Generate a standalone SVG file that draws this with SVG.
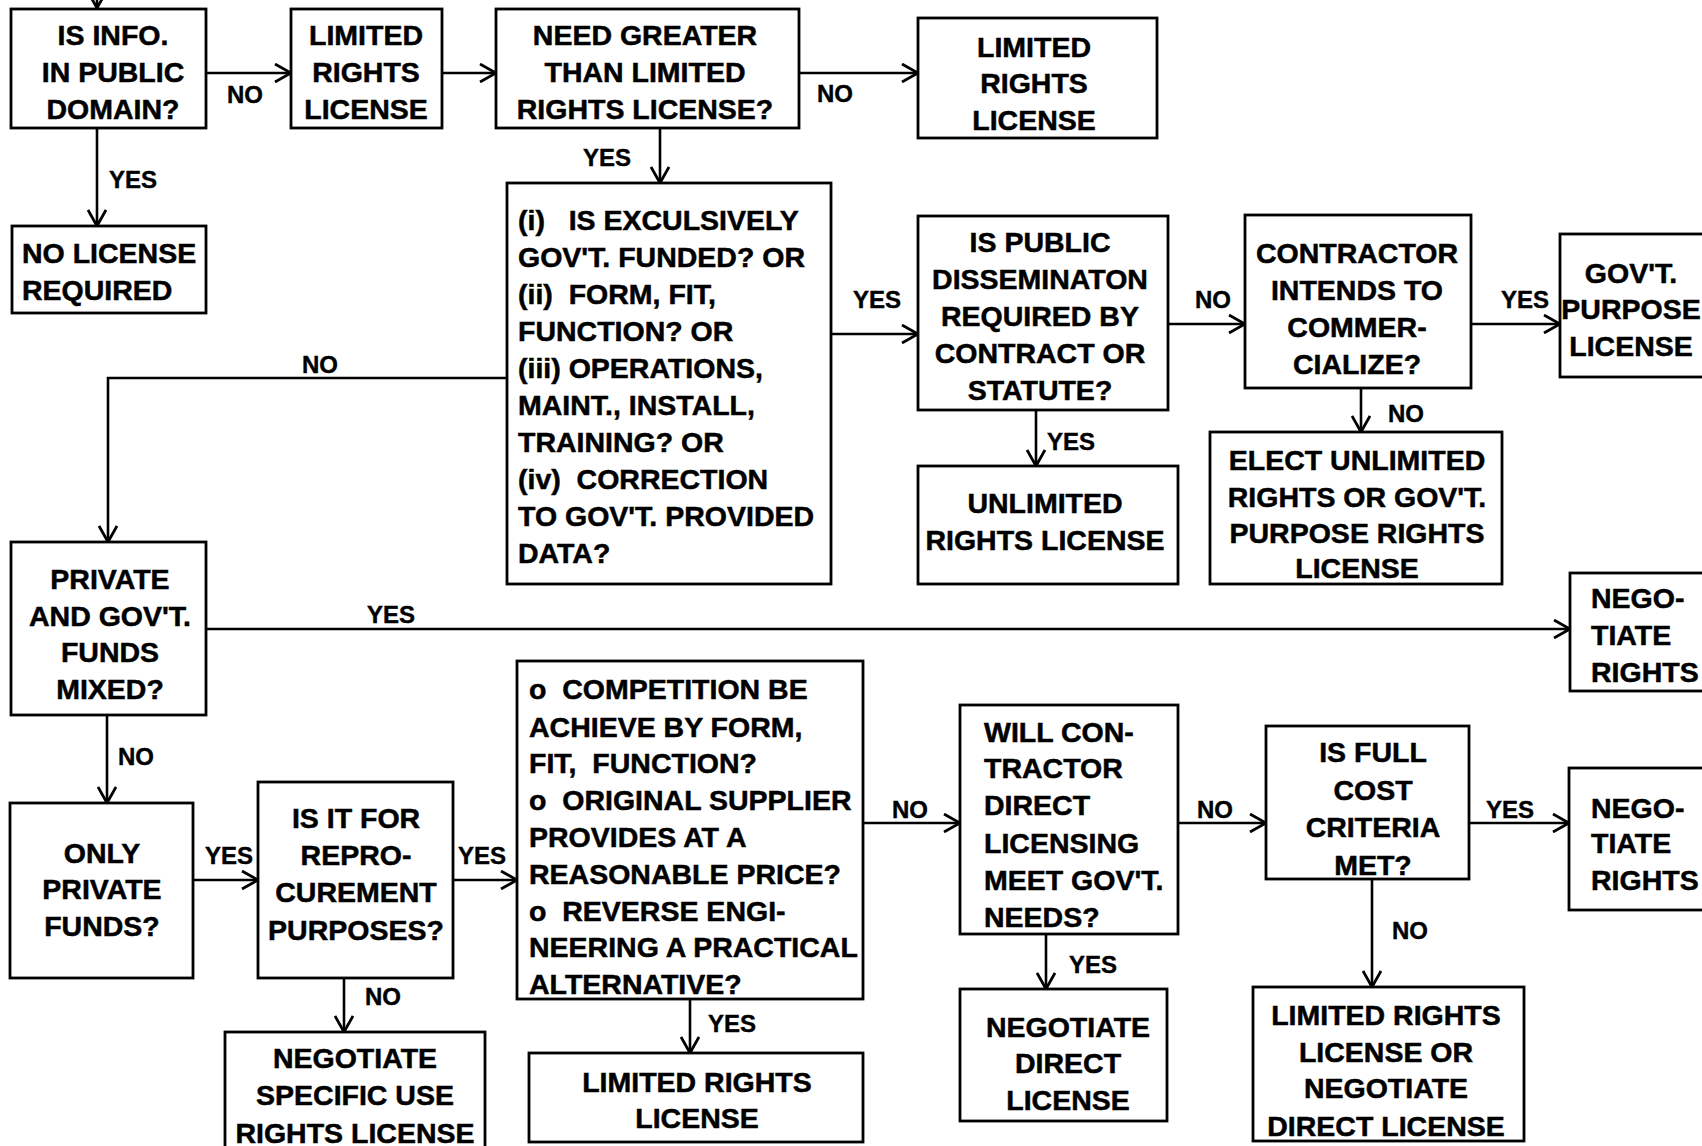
<svg xmlns="http://www.w3.org/2000/svg" width="1702" height="1146" viewBox="0 0 1702 1146">
<style>
.box{fill:#fff;stroke:#000;stroke-width:2.8}
.t{font-family:"Liberation Sans",Arial,sans-serif;font-weight:bold;font-size:28.5px;fill:#000;stroke:#000;stroke-width:0.5}
.c{text-anchor:middle}
.l{font-family:"Liberation Sans",Arial,sans-serif;font-weight:bold;font-size:24px;fill:#000;stroke:#000;stroke-width:0.4;text-anchor:middle}
.e{fill:none;stroke:#000;stroke-width:2.6}
</style>
<defs>
<marker id="ah" viewBox="0 0 20 20" refX="19" refY="10" markerWidth="20" markerHeight="20" markerUnits="userSpaceOnUse" orient="auto">
<path d="M3,1 L19,10 L3,19" fill="none" stroke="#000" stroke-width="2.8"/>
</marker>
</defs>
<rect width="1702" height="1146" fill="#fff"/>
<g id="connectors">
<path class="e" marker-end="url(#ah)" d="M97,-5 L97,8"/>
<path class="e" marker-end="url(#ah)" d="M206,73 L291,73"/>
<path class="e" marker-end="url(#ah)" d="M442,73 L496,73"/>
<path class="e" marker-end="url(#ah)" d="M799,73 L918,73"/>
<path class="e" marker-end="url(#ah)" d="M97,128 L97,226"/>
<path class="e" marker-end="url(#ah)" d="M660,128 L660,183"/>
<path class="e" marker-end="url(#ah)" d="M831,334 L918,334"/>
<path class="e" marker-end="url(#ah)" d="M1168,324 L1245,324"/>
<path class="e" marker-end="url(#ah)" d="M1471,324 L1560,324"/>
<path class="e" marker-end="url(#ah)" d="M1036,410 L1036,466"/>
<path class="e" marker-end="url(#ah)" d="M1361,388 L1361,432"/>
<path class="e" marker-end="url(#ah)" d="M507,378 L108,378 L108,542"/>
<path class="e" marker-end="url(#ah)" d="M206,629 L1570,629"/>
<path class="e" marker-end="url(#ah)" d="M107,715 L107,803"/>
<path class="e" marker-end="url(#ah)" d="M193,880 L258,880"/>
<path class="e" marker-end="url(#ah)" d="M453,880 L517,880"/>
<path class="e" marker-end="url(#ah)" d="M344,978 L344,1032"/>
<path class="e" marker-end="url(#ah)" d="M690,999 L690,1053"/>
<path class="e" marker-end="url(#ah)" d="M863,823 L960,823"/>
<path class="e" marker-end="url(#ah)" d="M1178,823 L1266,823"/>
<path class="e" marker-end="url(#ah)" d="M1469,823 L1569,823"/>
<path class="e" marker-end="url(#ah)" d="M1046,934 L1046,989"/>
<path class="e" marker-end="url(#ah)" d="M1372,879 L1372,987"/>
<text class="l" x="245" y="103">NO</text>
<text class="l" x="835" y="102">NO</text>
<text class="l" x="133" y="188">YES</text>
<text class="l" x="607" y="166">YES</text>
<text class="l" x="877" y="308">YES</text>
<text class="l" x="1213" y="308">NO</text>
<text class="l" x="1525" y="308">YES</text>
<text class="l" x="1071" y="450">YES</text>
<text class="l" x="1406" y="422">NO</text>
<text class="l" x="320" y="373">NO</text>
<text class="l" x="391" y="623">YES</text>
<text class="l" x="136" y="765">NO</text>
<text class="l" x="229" y="864">YES</text>
<text class="l" x="482" y="864">YES</text>
<text class="l" x="383" y="1005">NO</text>
<text class="l" x="732" y="1032">YES</text>
<text class="l" x="910" y="818">NO</text>
<text class="l" x="1215" y="818">NO</text>
<text class="l" x="1510" y="818">YES</text>
<text class="l" x="1093" y="973">YES</text>
<text class="l" x="1410" y="939">NO</text>
</g>
<g id="public-domain">
<rect class="box" x="11" y="9" width="195" height="119"/>
<text class="t c" x="113" y="45">IS INFO.</text>
<text class="t c" x="113" y="82">IN PUBLIC</text>
<text class="t c" x="113" y="119">DOMAIN?</text>
</g>
<g id="limited-rights-1">
<rect class="box" x="291" y="9" width="151" height="119"/>
<text class="t c" x="366" y="45">LIMITED</text>
<text class="t c" x="366" y="82">RIGHTS</text>
<text class="t c" x="366" y="119">LICENSE</text>
</g>
<g id="need-greater">
<rect class="box" x="496" y="9" width="303" height="119"/>
<text class="t c" x="645" y="45">NEED GREATER</text>
<text class="t c" x="645" y="82">THAN LIMITED</text>
<text class="t c" x="645" y="119">RIGHTS LICENSE?</text>
</g>
<g id="limited-rights-2">
<rect class="box" x="918" y="18" width="239" height="120"/>
<text class="t c" x="1034" y="57">LIMITED</text>
<text class="t c" x="1034" y="93">RIGHTS</text>
<text class="t c" x="1034" y="130">LICENSE</text>
</g>
<g id="no-license">
<rect class="box" x="12" y="226" width="194" height="87"/>
<text class="t" x="22" y="263">NO LICENSE</text>
<text class="t" x="22" y="300">REQUIRED</text>
</g>
<g id="criteria">
<rect class="box" x="507" y="183" width="324" height="401"/>
<text class="t" x="518" y="230" xml:space="preserve">(i)   IS EXCULSIVELY</text>
<text class="t" x="518" y="267">GOV'T. FUNDED? OR</text>
<text class="t" x="518" y="304" xml:space="preserve">(ii)  FORM, FIT,</text>
<text class="t" x="518" y="341">FUNCTION? OR</text>
<text class="t" x="518" y="378">(iii) OPERATIONS,</text>
<text class="t" x="518" y="415">MAINT., INSTALL,</text>
<text class="t" x="518" y="452">TRAINING? OR</text>
<text class="t" x="518" y="489" xml:space="preserve">(iv)  CORRECTION</text>
<text class="t" x="518" y="526">TO GOV'T. PROVIDED</text>
<text class="t" x="518" y="563">DATA?</text>
</g>
<g id="public-dissemination">
<rect class="box" x="918" y="216" width="250" height="194"/>
<text class="t c" x="1040" y="252">IS PUBLIC</text>
<text class="t c" x="1040" y="289">DISSEMINATON</text>
<text class="t c" x="1040" y="326">REQUIRED BY</text>
<text class="t c" x="1040" y="363">CONTRACT OR</text>
<text class="t c" x="1040" y="400">STATUTE?</text>
</g>
<g id="commercialize">
<rect class="box" x="1245" y="215" width="226" height="173"/>
<text class="t c" x="1357" y="263">CONTRACTOR</text>
<text class="t c" x="1357" y="300">INTENDS TO</text>
<text class="t c" x="1357" y="337">COMMER-</text>
<text class="t c" x="1357" y="374">CIALIZE?</text>
</g>
<g id="govt-purpose">
<rect class="box" x="1560" y="234" width="160" height="143"/>
<text class="t c" x="1631" y="283">GOV'T.</text>
<text class="t c" x="1631" y="319">PURPOSE</text>
<text class="t c" x="1631" y="356">LICENSE</text>
</g>
<g id="unlimited">
<rect class="box" x="918" y="466" width="260" height="118"/>
<text class="t c" x="1045" y="513">UNLIMITED</text>
<text class="t c" x="1045" y="550">RIGHTS LICENSE</text>
</g>
<g id="elect">
<rect class="box" x="1210" y="432" width="292" height="152"/>
<text class="t c" x="1357" y="470">ELECT UNLIMITED</text>
<text class="t c" x="1357" y="507">RIGHTS OR GOV'T.</text>
<text class="t c" x="1357" y="543">PURPOSE RIGHTS</text>
<text class="t c" x="1357" y="578">LICENSE</text>
</g>
<g id="mixed">
<rect class="box" x="11" y="542" width="195" height="173"/>
<text class="t c" x="110" y="589">PRIVATE</text>
<text class="t c" x="110" y="626">AND GOV'T.</text>
<text class="t c" x="110" y="662">FUNDS</text>
<text class="t c" x="110" y="699">MIXED?</text>
</g>
<g id="negotiate-rights-1">
<rect class="box" x="1570" y="573" width="150" height="118"/>
<text class="t" x="1591" y="608">NEGO-</text>
<text class="t" x="1591" y="645">TIATE</text>
<text class="t" x="1591" y="682">RIGHTS</text>
</g>
<g id="only-private">
<rect class="box" x="10" y="803" width="183" height="175"/>
<text class="t c" x="102" y="863">ONLY</text>
<text class="t c" x="102" y="899">PRIVATE</text>
<text class="t c" x="102" y="936">FUNDS?</text>
</g>
<g id="reprocurement">
<rect class="box" x="258" y="782" width="195" height="196"/>
<text class="t c" x="356" y="828">IS IT FOR</text>
<text class="t c" x="356" y="865">REPRO-</text>
<text class="t c" x="356" y="902">CUREMENT</text>
<text class="t c" x="356" y="940">PURPOSES?</text>
</g>
<g id="specific-use">
<rect class="box" x="225" y="1032" width="260" height="130"/>
<text class="t c" x="355" y="1068">NEGOTIATE</text>
<text class="t c" x="355" y="1105">SPECIFIC USE</text>
<text class="t c" x="355" y="1143">RIGHTS LICENSE</text>
</g>
<g id="competition">
<rect class="box" x="517" y="661" width="346" height="338"/>
<text class="t" x="529" y="699" xml:space="preserve">o  COMPETITION BE</text>
<text class="t" x="529" y="737">ACHIEVE BY FORM,</text>
<text class="t" x="529" y="773" xml:space="preserve">FIT,  FUNCTION?</text>
<text class="t" x="529" y="810" xml:space="preserve">o  ORIGINAL SUPPLIER</text>
<text class="t" x="529" y="847">PROVIDES AT A</text>
<text class="t" x="529" y="884">REASONABLE PRICE?</text>
<text class="t" x="529" y="921" xml:space="preserve">o  REVERSE ENGI-</text>
<text class="t" x="529" y="957">NEERING A PRACTICAL</text>
<text class="t" x="529" y="994">ALTERNATIVE?</text>
</g>
<g id="limited-rights-3">
<rect class="box" x="529" y="1053" width="334" height="89"/>
<text class="t c" x="697" y="1092">LIMITED RIGHTS</text>
<text class="t c" x="697" y="1128">LICENSE</text>
</g>
<g id="direct-licensing">
<rect class="box" x="960" y="705" width="218" height="229"/>
<text class="t" x="984" y="742">WILL CON-</text>
<text class="t" x="984" y="778">TRACTOR</text>
<text class="t" x="984" y="815">DIRECT</text>
<text class="t" x="984" y="853">LICENSING</text>
<text class="t" x="984" y="890">MEET GOV'T.</text>
<text class="t" x="984" y="927">NEEDS?</text>
</g>
<g id="full-cost">
<rect class="box" x="1266" y="726" width="203" height="153"/>
<text class="t c" x="1373" y="762">IS FULL</text>
<text class="t c" x="1373" y="800">COST</text>
<text class="t c" x="1373" y="837">CRITERIA</text>
<text class="t c" x="1373" y="875">MET?</text>
</g>
<g id="negotiate-rights-2">
<rect class="box" x="1569" y="768" width="150" height="142"/>
<text class="t" x="1591" y="818">NEGO-</text>
<text class="t" x="1591" y="853">TIATE</text>
<text class="t" x="1591" y="890">RIGHTS</text>
</g>
<g id="negotiate-direct">
<rect class="box" x="960" y="989" width="207" height="132"/>
<text class="t c" x="1068" y="1037">NEGOTIATE</text>
<text class="t c" x="1068" y="1073">DIRECT</text>
<text class="t c" x="1068" y="1110">LICENSE</text>
</g>
<g id="limited-or-negotiate">
<rect class="box" x="1253" y="987" width="271" height="154"/>
<text class="t c" x="1386" y="1025">LIMITED RIGHTS</text>
<text class="t c" x="1386" y="1062">LICENSE OR</text>
<text class="t c" x="1386" y="1098">NEGOTIATE</text>
<text class="t c" x="1386" y="1136">DIRECT LICENSE</text>
</g>
</svg>
